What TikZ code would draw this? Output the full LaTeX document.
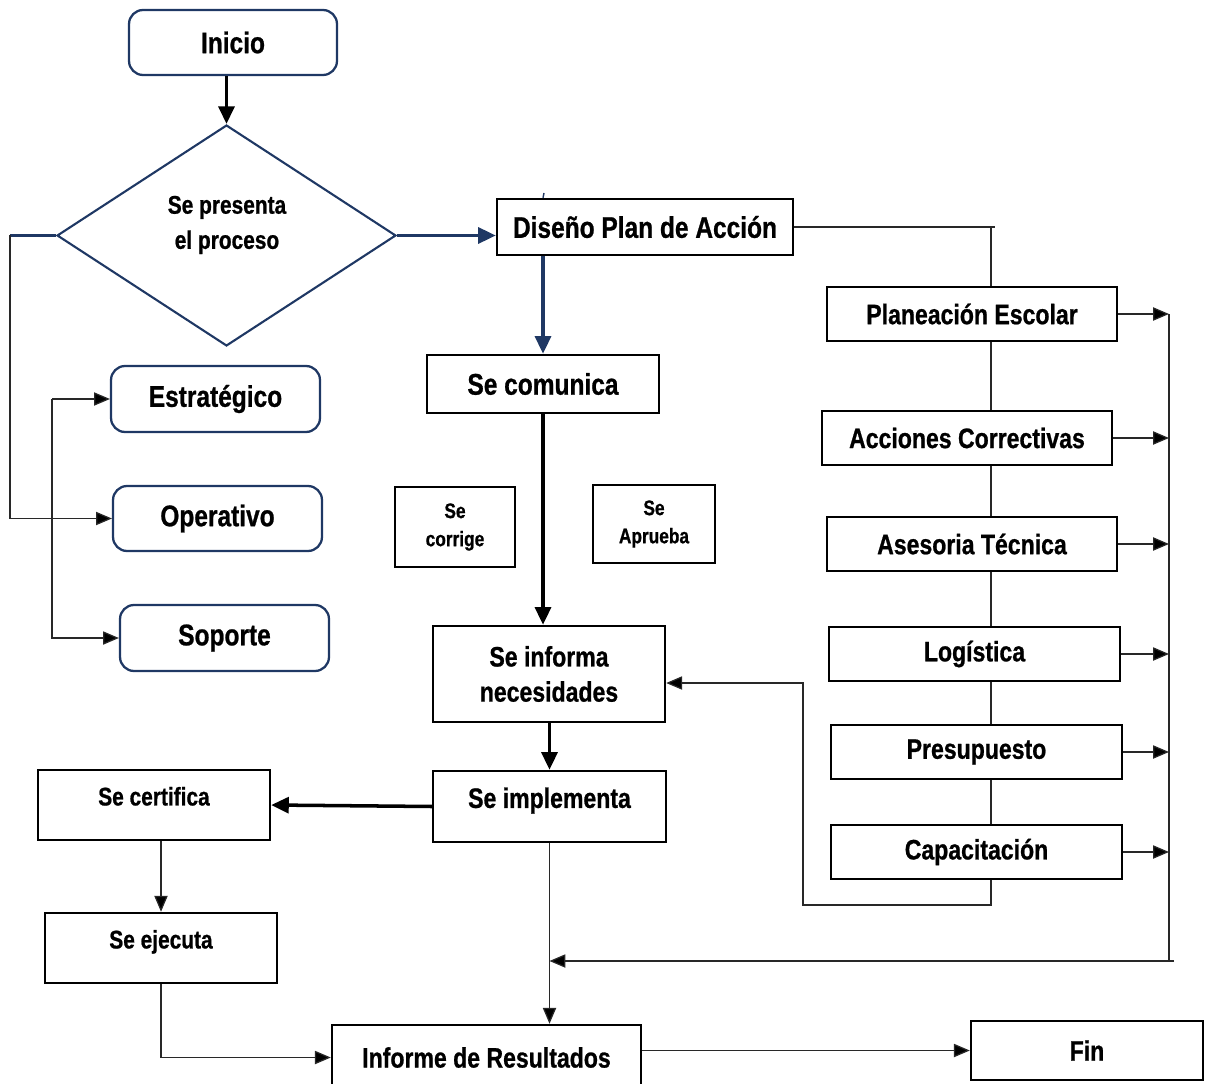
\documentclass[tikz,border=0pt]{standalone}
\usepackage{fontspec}
\setmainfont{Liberation Sans}[FakeStretch=0.82, BoldFeatures={FakeBold=0.8}]
\usepackage{xcolor}
\usetikzlibrary{shapes.geometric, positioning, arrows.meta}
\definecolor{navy}{RGB}{31,56,100}
\definecolor{thin}{RGB}{40,40,40}
\tikzset{
  box/.style={draw, line width=1.4pt, inner sep=0pt, align=center, font=\bfseries\fontsize{16}{20}\selectfont},
  rbox/.style={draw=navy, line width=1.3pt, rounded corners=8pt, inner sep=0pt, font=\bfseries\fontsize{17}{20}\selectfont},
  dia/.style={diamond, draw=navy, line width=1.2pt, inner sep=0pt},
  tip/.style={-{Triangle[length=9pt,width=7.5pt,fill=black]}},
  bigtip/.style={-{Triangle[length=10pt,width=9pt]}},
  thk/.style={line width=2pt},
  thn/.style={line width=0.7pt, color=thin},
  hi/.style={text depth=10pt}
}

\begin{document}
\begin{tikzpicture}[x=0.02cm, y=-0.02cm]
  \useasboundingbox (0,0) rectangle (1213,1084);
  % left part
  \node[rbox, minimum width=4.16cm, minimum height=1.30cm] (inicio) at (233,42.5) {Inicio};
  \node[dia, minimum width=6.78cm, minimum height=4.42cm] (dec) at (226.5,235.5) {};
  \node[align=center, font=\bfseries\fontsize{14.5}{20}\selectfont] (decT) at (227,225) {Se presenta\\el proceso};
  \node[rbox, minimum width=4.18cm, minimum height=1.32cm] (estr) at (215.5,399) {Estratégico};
  \node[rbox, minimum width=4.18cm, minimum height=1.30cm] (oper) at (217.5,518.5) {Operativo};
  \node[rbox, minimum width=4.18cm, minimum height=1.32cm] (sop) at (224.5,638) {Soporte};
  % middle column
  \node[box, font=\bfseries\fontsize{17}{20}\selectfont, minimum width=5.92cm, minimum height=1.12cm] (dis) at (645,227) {Diseño Plan de Acción};
  \node[box, font=\bfseries\fontsize{17}{20}\selectfont, minimum width=4.64cm, minimum height=1.16cm] (com) at (543,384) {Se comunica};
  \node[box, font=\bfseries\fontsize{12}{16}\selectfont, minimum width=2.40cm, minimum height=1.60cm] (corr) at (455,527) {Se\\corrige};
  \node[box, font=\bfseries\fontsize{12}{16}\selectfont, minimum width=2.44cm, minimum height=1.56cm] (apr) at (654,524) {Se\\Aprueba};
  \node[box, minimum width=4.64cm, minimum height=1.92cm] (inf) at (549,674) {Se informa\\necesidades};
  \node[box, hi, minimum width=4.66cm, minimum height=1.42cm] (impl) at (549.5,806.5) {Se implementa};
  \node[box, hi, font=\bfseries\fontsize{14.5}{20}\selectfont, minimum width=4.64cm, minimum height=1.40cm] (cert) at (154,805) {Se certifica};
  \node[box, hi, font=\bfseries\fontsize{14.5}{20}\selectfont, minimum width=4.64cm, minimum height=1.40cm] (ejec) at (161,948) {Se ejecuta};
  \node[box, minimum width=6.18cm, minimum height=1.30cm] (res) at (486.5,1057.5) {Informe de Resultados};
  \node[box, minimum width=4.64cm, minimum height=1.18cm] (fin) at (1087,1050.5) {Fin};
  % right column
  \node[box, minimum width=5.80cm, minimum height=1.08cm] (plan) at (972,314) {Planeación Escolar};
  \node[box, minimum width=5.80cm, minimum height=1.08cm] (acc) at (967,438) {Acciones Correctivas};
  \node[box, minimum width=5.80cm, minimum height=1.08cm] (ases) at (972,544) {Asesoria Técnica};
  \node[box, minimum width=5.82cm, minimum height=1.08cm] (log) at (974.5,654) {Logística};
  \node[box, minimum width=5.82cm, minimum height=1.08cm] (pres) at (976.5,752) {Presupuesto};
  \node[box, minimum width=5.82cm, minimum height=1.08cm] (cap) at (976.5,852) {Capacitación};
  \coordinate (spine) at (991,0);
  \coordinate (rail) at (1169,0);

  \draw[thk, bigtip] (dec.north |- inicio.south) -- (dec.north);
  \draw[navy, thk, bigtip] (dec.east) -- (dec.east -| dis.west);
  \draw[navy, line width=0.8pt] (544,193) -- (com.north |- dis.north);
  \draw[navy, thk, bigtip] (com.north |- dis.south) -- (com.north);
  \draw[thk, bigtip] (com.south) -- (com.south |- inf.north);
  \draw[thk, bigtip] (impl.north |- inf.south) -- (impl.north);
  \draw[thk, bigtip] (impl.west) -- (cert.east);
  \draw[thn, tip] (cert.south -| ejec.north) -- (ejec.north);
  \draw[thn, tip] (ejec.south) |- (res.west);
  \draw[thn, tip] (impl.south) -- (impl.south |- res.north);
  \draw[thn, tip] (res.east |- fin.west) -- (fin.west);

  %left loop
  \draw[navy, thk] (dec.west) -- (10,235.5);
  \draw[thn, tip] (10,235.5) |- (oper.west);
  \draw[thn, tip] (52,399) -- (estr.west);
  \draw[thn, tip] (52,399) |- (sop.west);

  %right column
  \draw[thn] (dis.east) -- (995,227);
  \draw[thn] (spine |- dis.east) -- (spine |- plan.north);
  \foreach \a/\b in {plan/acc, acc/ases, ases/log, log/pres, pres/cap}
    \draw[thn] (spine |- \a.south) -- (spine |- \b.north);
  \foreach \n in {plan, acc, ases, log, pres, cap}
    \draw[thn, tip] (\n.east) -- (\n.east -| rail);
  \draw[thn] (plan.east -| rail) -- (1169,961);
  \draw[thn, tip] (1174,961) -- (impl.south |- 0,961);
  \draw[thn, tip] (spine |- cap.south) -- (991,905) -- (803,905) -- (803,683) -- (inf.east |- 0,683);
\end{tikzpicture}
\end{document}
